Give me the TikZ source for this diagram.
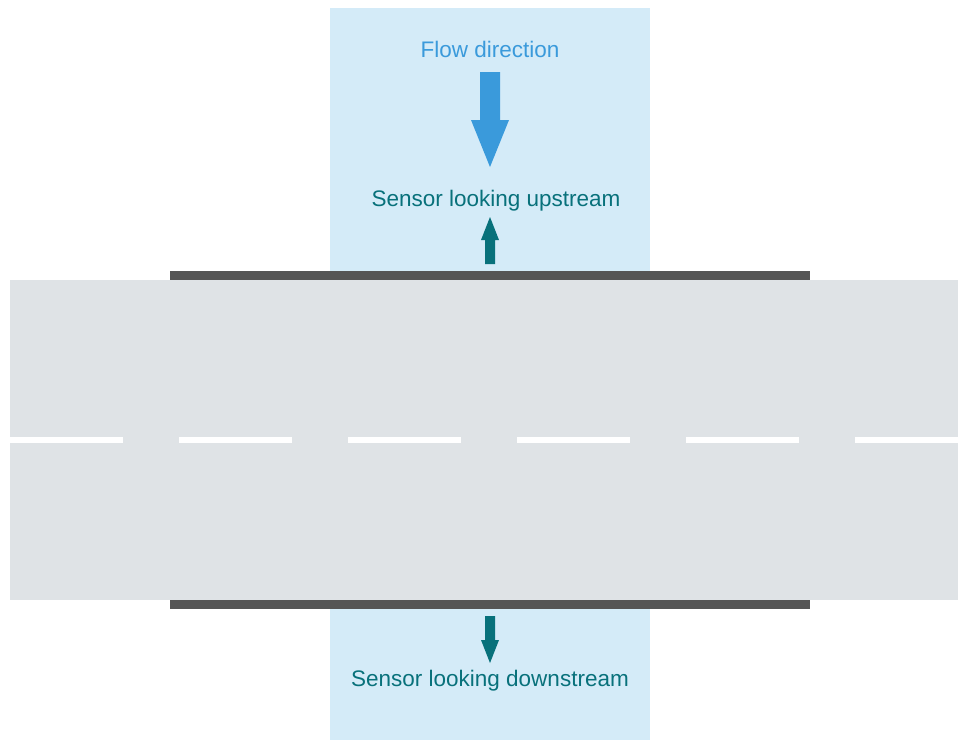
\documentclass[tikz,border=0pt]{standalone}
\usepackage{fontspec}
\setmainfont{Liberation Sans}
\usepackage{tikz}
\usetikzlibrary{positioning}
\usepackage{xcolor}
\definecolor{zonefill}{HTML}{D4EBF8}
\definecolor{roadgray}{HTML}{DFE3E6}
\definecolor{curbgray}{HTML}{555555}
\definecolor{flowblue}{HTML}{3A9ADB}
\definecolor{sensorteal}{HTML}{08717B}
\tikzset{
  label/.style={font=\fontsize{22.5}{27}\selectfont, inner sep=0pt, anchor=base},
  flowlabel/.style={label, text=flowblue},
  sensorlabel/.style={label, text=sensorteal},
  curb/.style={fill=curbgray, draw=none},
  lanemark/.style={draw=white, line width=6pt, dash pattern=on 113pt off 56pt},
  sensorarrow/.style={fill=sensorteal, draw=none},
  flowarrow/.style={fill=flowblue, draw=none}
}

\begin{document}
\begin{tikzpicture}[x=1pt, y=-1pt]
  \useasboundingbox[fill=white] (0,0) rectangle (958,740);

  % sensor zone and road
  \fill[zonefill] (330,8) rectangle (650,740);
  \fill[roadgray] (10,280) rectangle (958,600);
  \fill[curb] (170,271) rectangle (810,280);
  \fill[curb] (170,600) rectangle (810,609);
  \draw[lanemark] (10,440) -- (958,440);

  % labels
  \node[flowlabel] (flow) at (490,57) {Flow direction};
  \node[sensorlabel] (up) at (496,206) {Sensor looking upstream};
  \node[sensorlabel] (down) at (490,686) {Sensor looking downstream};

  % arrows
  \fill[flowarrow] (480,72) -- (500,72) -- (500,120) -- (509,120) -- (490,167)
    -- (471,120) -- (480,120) -- cycle;
  \fill[sensorarrow] (485,264) -- (495,264) -- (495,240) -- (499,240) -- (490,217)
    -- (481,240) -- (485,240) -- cycle;
  \fill[sensorarrow] (485,616) -- (495,616) -- (495,640) -- (499,640) -- (490,663)
    -- (481,640) -- (485,640) -- cycle;
\end{tikzpicture}
\end{document}
